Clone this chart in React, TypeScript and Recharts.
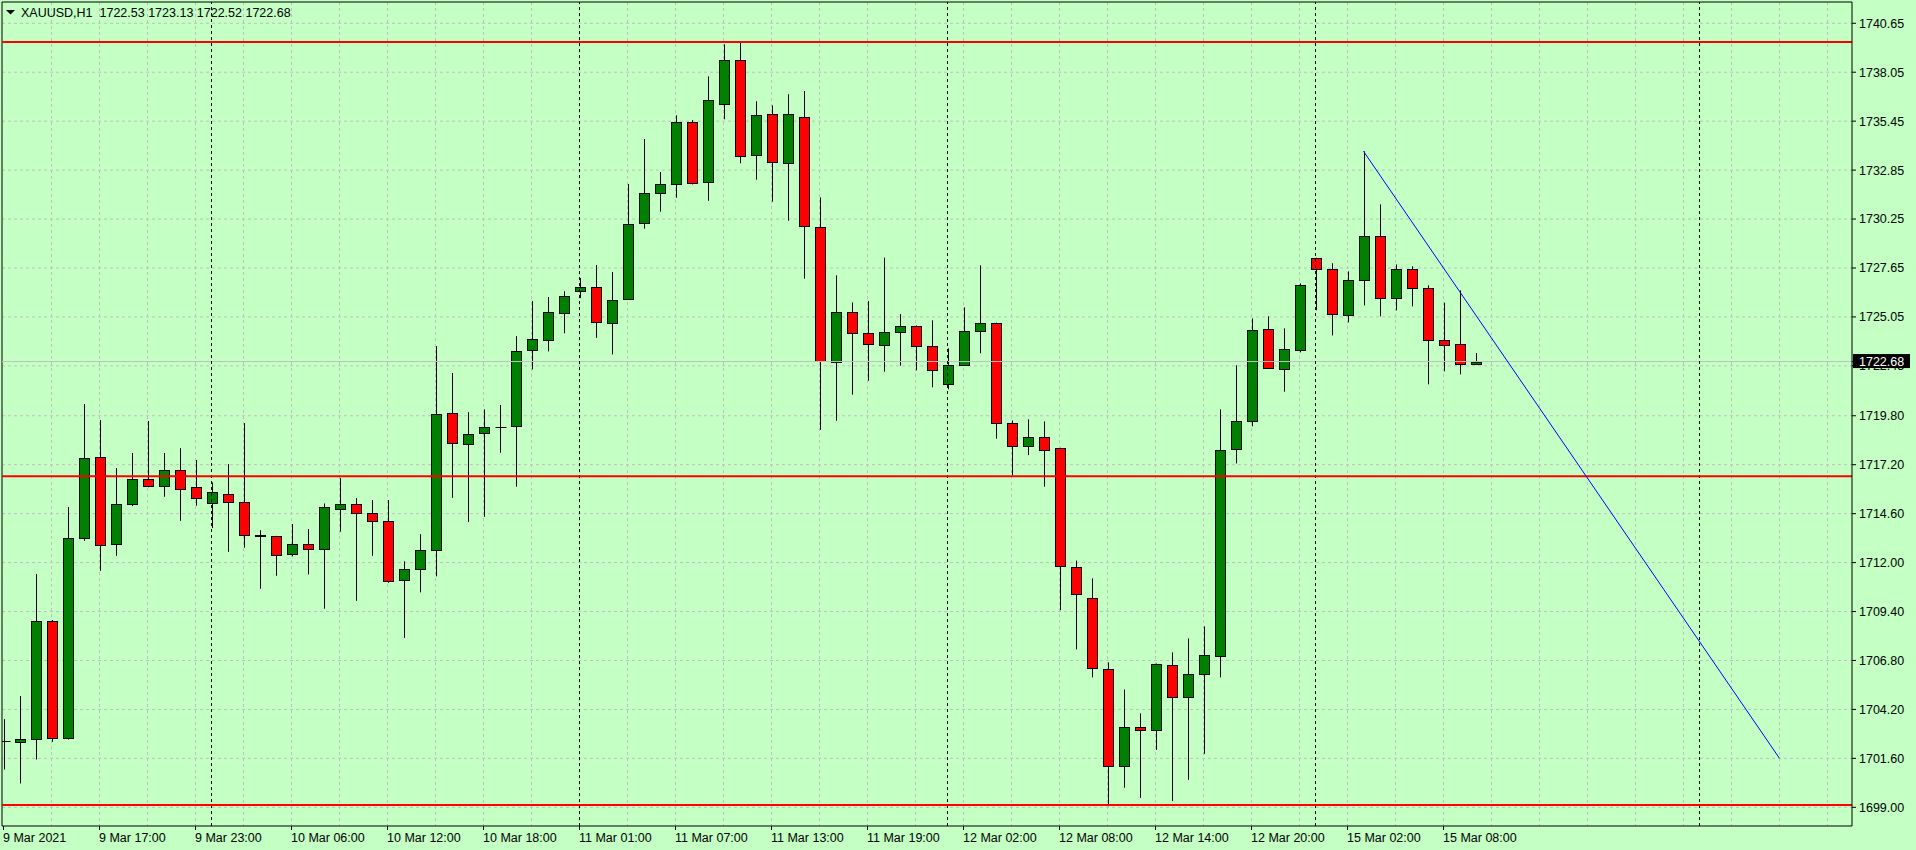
import React from "react";
import {
  ComposedChart,
  Bar,
  XAxis,
  YAxis,
  CartesianGrid,
  ReferenceLine,
} from "recharts";

// XAUUSD H1, 9 Mar 11:00 .. 15 Mar 10:00 (bar index = slot on the time axis)
const opens = [
  1702.5, 1702.48, 1702.61, 1708.89, 1702.66, 1713.29, 1717.59, 1712.97, 1715.09, 1716.42,
  1716.05, 1716.9, 1716.0, 1715.15, 1715.62, 1715.2, 1713.44, 1713.39, 1712.44, 1712.97,
  1712.7, 1714.83, 1715.09, 1714.62, 1714.19, 1711.06, 1711.64, 1712.65, 1719.93, 1718.28,
  1718.86, 1719.18, 1719.24, 1723.27, 1723.81, 1725.24, 1726.41, 1726.62, 1724.71, 1725.99,
  1730.02, 1731.62, 1732.09, 1735.39, 1732.2, 1736.35, 1738.68, 1733.64, 1735.81, 1733.21,
  1735.65, 1729.81, 1722.64, 1725.29, 1724.18, 1723.54, 1724.23, 1724.55, 1723.49, 1721.47,
  1722.48, 1724.29, 1724.71, 1719.4, 1718.17, 1718.65, 1718.07, 1711.74, 1710.1, 1706.33,
  1701.22, 1703.24, 1703.13, 1706.54, 1704.84, 1706.06, 1707.05, 1718.01, 1719.5, 1724.39,
  1722.26, 1723.27, 1728.16, 1727.58, 1725.13, 1726.99, 1729.33, 1726.04, 1727.58, 1726.57,
  1723.81, 1723.59, 1722.53,
];
const highs = [
  1703.68, 1704.91, 1711.39, 1708.95, 1714.95, 1720.42, 1719.57, 1717.02, 1717.82, 1719.52,
  1717.82, 1718.08, 1717.45, 1716.26, 1717.23, 1719.41, 1713.72, 1713.42, 1714.05, 1713.78,
  1715.14, 1716.49, 1715.43, 1715.32, 1715.32, 1712.07, 1713.51, 1723.5, 1722.07, 1719.99,
  1720.14, 1720.37, 1724.03, 1725.89, 1726.11, 1726.42, 1727.12, 1727.81, 1727.44, 1732.11,
  1734.5, 1732.75, 1735.76, 1735.5, 1737.83, 1739.53, 1739.64, 1736.51, 1736.29, 1736.88,
  1737.05, 1731.4, 1727.26, 1725.82, 1725.89, 1728.2, 1725.2, 1724.6, 1724.87, 1723.38,
  1725.56, 1727.79, 1724.75, 1719.55, 1719.61, 1719.5, 1718.1, 1712.11, 1711.16, 1706.7,
  1705.26, 1703.99, 1706.64, 1707.23, 1707.97, 1708.61, 1720.14, 1722.48, 1724.97, 1725.08,
  1724.44, 1726.83, 1728.2, 1727.9, 1727.47, 1733.85, 1731.03, 1727.84, 1727.74, 1726.73,
  1725.81, 1726.46, 1723.13,
];
const lows = [
  1701.01, 1700.27, 1701.54, 1702.48, 1702.6, 1713.16, 1711.56, 1712.36, 1715.0, 1716.0,
  1715.5, 1714.22, 1715.02, 1713.83, 1712.57, 1712.79, 1710.61, 1711.3, 1712.33, 1711.37,
  1709.55, 1713.64, 1709.97, 1712.36, 1710.93, 1708.0, 1710.42, 1711.27, 1715.44, 1714.16,
  1714.43, 1717.83, 1716.03, 1722.26, 1723.22, 1724.18, 1726.05, 1723.94, 1723.06, 1725.95,
  1729.74, 1730.64, 1731.38, 1732.09, 1731.22, 1735.55, 1733.21, 1732.34, 1731.17, 1730.16,
  1727.08, 1719.05, 1719.53, 1720.92, 1721.66, 1722.14, 1722.46, 1722.21, 1721.31, 1721.2,
  1722.45, 1723.12, 1718.58, 1716.63, 1717.71, 1716.03, 1709.47, 1707.39, 1705.9, 1699.06,
  1700.04, 1699.5, 1702.05, 1699.34, 1700.46, 1701.84, 1705.9, 1717.27, 1719.24, 1722.3,
  1721.08, 1723.17, 1725.4, 1724.07, 1724.76, 1725.66, 1725.08, 1725.4, 1725.61, 1721.47,
  1722.16, 1722.0, 1722.52,
];
const closes = [
  1702.53, 1702.61, 1708.89, 1702.66, 1713.29, 1717.54, 1712.91, 1715.09, 1716.42, 1716.05,
  1716.9, 1715.89, 1715.41, 1715.73, 1715.2, 1713.44, 1713.42, 1712.38, 1712.97, 1712.7,
  1714.93, 1715.09, 1714.62, 1714.19, 1711.0, 1711.64, 1712.65, 1719.87, 1718.33, 1718.81,
  1719.18, 1719.2, 1723.24, 1723.86, 1725.29, 1726.14, 1726.62, 1724.76, 1725.93, 1729.97,
  1731.62, 1732.09, 1735.39, 1732.15, 1736.56, 1738.68, 1733.58, 1735.76, 1733.26, 1735.81,
  1729.86, 1722.69, 1725.29, 1724.18, 1723.59, 1724.23, 1724.55, 1723.49, 1722.21, 1722.48,
  1724.29, 1724.71, 1719.4, 1718.17, 1718.65, 1717.96, 1711.8, 1710.31, 1706.38, 1701.22,
  1703.24, 1703.13, 1706.59, 1704.84, 1706.06, 1707.07, 1717.96, 1719.5, 1724.34, 1722.32,
  1723.33, 1726.73, 1727.58, 1725.19, 1726.99, 1729.33, 1726.04, 1727.58, 1726.57, 1723.81,
  1723.54, 1722.53, 1722.68,
];

const xTicks = [0, 6, 12, 18, 24, 30, 36, 42, 48, 54, 60, 66, 72, 78, 84, 90];
const xTickLabels = [
  "9 Mar 2021", "9 Mar 17:00", "9 Mar 23:00", "10 Mar 06:00", "10 Mar 12:00",
  "10 Mar 18:00", "11 Mar 01:00", "11 Mar 07:00", "11 Mar 13:00", "11 Mar 19:00",
  "12 Mar 02:00", "12 Mar 08:00", "12 Mar 14:00", "12 Mar 20:00", "15 Mar 02:00",
  "15 Mar 08:00",
];
const yTicks = [
  1740.65, 1738.05, 1735.45, 1732.85, 1730.25, 1727.65, 1725.05, 1722.45, 1719.8,
  1717.2, 1714.6, 1712.0, 1709.4, 1706.8, 1704.2, 1701.6, 1699.0,
];
const levels = [1739.66, 1716.58, 1699.12];
const daySeparators = [13, 36, 59, 82, 106];
const trendLine = [
  { x: 85, y: 1733.85 },
  { x: 111, y: 1701.6 },
];
const lastPrice = 1722.68;
const header = "XAUUSD,H1  1722.53 1723.13 1722.52 1722.68";

const X_MIN = -0.094;
const X_MAX = 115.53;
const Y_MIN = 1698.007;
const Y_MAX = 1741.78;
const gridX = Array.from({ length: 38 }, (_, k) => 3 + 3 * k);

const FONT = "'Liberation Sans', Arial, sans-serif";
const BG = "#c4ffc4";

const data = opens.map((o, i) => ({
  i,
  o,
  h: highs[i],
  l: lows[i],
  c: closes[i],
  range: [lows[i], highs[i]],
}));

const Candle = (props: any) => {
  const { x, y, width, height, payload } = props;
  const { o, h, l, c } = payload;
  const top0 = Math.min(y, y + height);
  const hh = Math.abs(height);
  const cx = Math.round(x + width / 2 - 0.5) + 0.5;
  const k = h - l > 0 ? hh / (h - l) : 0;
  const py = (v: number) => top0 + (h - v) * k;
  const top = Math.round(py(Math.max(o, c))) + 0.5;
  const bot = Math.round(py(Math.min(o, c))) + 0.5;
  const up = c >= o;
  return (
    <g>
      <line x1={cx} x2={cx} y1={top0} y2={top0 + hh} stroke="#000" strokeWidth={1} />
      {bot - top < 1 ? (
        <line x1={cx - 5} x2={cx + 6} y1={top} y2={top} stroke="#000" strokeWidth={1} />
      ) : (
        <rect
          x={cx - 5}
          y={top}
          width={10}
          height={bot - top}
          fill={up ? "#008000" : "#ff0000"}
          stroke="#000"
          strokeWidth={1}
        />
      )}
    </g>
  );
};

const TimeTick = (props: any) => {
  const { x, y, payload } = props;
  const idx = xTicks.indexOf(payload.value);
  return (
    <text x={x - 0.5} y={y + 10} textAnchor="start" fontSize={12.5} fill="#000" fontFamily={FONT}>
      {xTickLabels[idx]}
    </text>
  );
};

const PriceTick = (props: any) => {
  const { x, y, payload } = props;
  const v = payload.value;
  if (v === lastPrice) {
    return (
      <g>
        <rect x={x - 6} y={y - 7.5} width={57} height={14} fill="#000" />
        <text x={x} y={y} dy="0.355em" textAnchor="start" fontSize={12.5} fill="#fff" fontFamily={FONT}>
          {v.toFixed(2)}
        </text>
      </g>
    );
  }
  return (
    <text x={x} y={y} dy="0.355em" textAnchor="start" fontSize={12.5} fill="#000" fontFamily={FONT}>
      {v.toFixed(2)}
    </text>
  );
};

export default function App() {
  return (
    <div style={{ position: "relative", width: 1916, height: 850, background: BG }}>
      <style>{`body{margin:0}`}</style>
      <ComposedChart
        width={1916}
        height={850}
        data={data}
        margin={{ top: 2, right: 0, bottom: 0, left: 2 }}
      >
        <CartesianGrid
          stroke="#c0c0c0"
          strokeDasharray="3 3"
          horizontalValues={yTicks}
          verticalValues={gridX}
        />
        <XAxis
          dataKey="i"
          type="number"
          domain={[X_MIN, X_MAX]}
          allowDataOverflow
          ticks={xTicks}
          interval={0}
          height={24}
          tickSize={4}
          tickMargin={2}
          axisLine={{ stroke: "#000" }}
          tickLine={{ stroke: "#000" }}
          tick={<TimeTick />}
        />
        <YAxis
          orientation="right"
          type="number"
          domain={[Y_MIN, Y_MAX]}
          allowDataOverflow
          ticks={[...yTicks, lastPrice]}
          interval={0}
          width={64}
          tickSize={4}
          tickMargin={3}
          axisLine={{ stroke: "#000" }}
          tickLine={{ stroke: "#000" }}
          tick={<PriceTick />}
        />
        <ReferenceLine y={Y_MAX} stroke="#000" ifOverflow="visible" />
        <ReferenceLine x={X_MIN} stroke="#000" ifOverflow="visible" />
        <ReferenceLine y={lastPrice} stroke="#c0c0c0" />
        {daySeparators.map((d) => (
          <ReferenceLine key={d} x={d} stroke="#000" strokeDasharray="3 3" />
        ))}
        {levels.map((lv) => (
          <ReferenceLine key={lv} y={lv} stroke="#ff0000" strokeWidth={2} />
        ))}
        <ReferenceLine segment={trendLine} stroke="#0000ff" strokeWidth={1} />
        <Bar
          dataKey="range"
          barSize={11}
          shape={<Candle />}
          isAnimationActive={false}
        />
      </ComposedChart>
      <div
        style={{
          position: "absolute",
          left: 0,
          top: 0,
          width: 400,
          height: 22,
          pointerEvents: "none",
        }}
      >
        <svg width={400} height={22}>
          <polygon points="6,10 15,10 10.5,14.5" fill="#000" />
          <text x={21} y={17.3} fontSize={12.5} fill="#000" fontFamily={FONT} style={{ whiteSpace: "pre" }}>
            {header}
          </text>
        </svg>
      </div>
    </div>
  );
}
